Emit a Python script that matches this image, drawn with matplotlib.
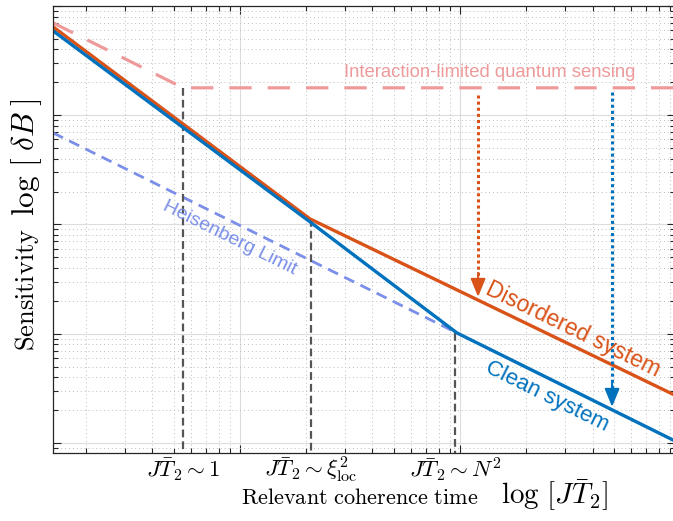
import numpy as np
import matplotlib
matplotlib.use("Agg")
import matplotlib.pyplot as plt
from matplotlib.ticker import LogLocator, NullFormatter

plt.rcParams['mathtext.fontset'] = 'cm'
plt.rcParams['font.family'] = ['Liberation Sans', 'DejaVu Sans']

# valores en log10 (esquema)
x_lim = [-0.85, 1.977]
y_lim = [-0.092, 4.0]

x_interaccion = [-0.85, -0.259, 1.98]
y_interaccion = [3.846, 3.251, 3.251]

x_desorden = [-0.85, 0.318, 1.98]
y_desorden = [3.81, 2.051, 0.434]

x_limpio = [-0.85, 0.318, 0.986, 1.98]
y_limpio = [3.773, 2.024, 1.007, 0.015]

x_heisenberg = [-0.85, 0.986]
y_heisenberg = [2.839, 1.007]

# lineas verticales: (x, y superior)
x_verticales = [-0.259, 0.323, 0.977]
y_verticales = [3.251, 2.05, 1.007]
etiquetas_x = [r'$J\bar{T}_2\sim 1$', r'$J\bar{T}_2\sim \xi^2_{\mathrm{loc}}$', r'$J\bar{T}_2\sim N^2$']

# flechas punteadas: x, y inicio, y punta
flecha_naranja = [1.082, 3.187, 1.337]
flecha_azul = [1.691, 3.214, 0.33]

naranja = '#D95319'
azul = '#0072BD'
rosa = '#EF9A9A'
celeste = '#7B8FE8'

fig = plt.figure(figsize=(6.73, 5.21), dpi=100)
ax = fig.add_axes([53/673, 68/521, 622/673, 447/521])
ax.set_xscale('log')
ax.set_yscale('log')
ax.set_xlim(10**x_lim[0], 10**x_lim[1])
ax.set_ylim(10**y_lim[0], 10**y_lim[1])

def p(v):
    return 10**np.array(v)

# grid estilo matlab
ax.grid(True, which='major', color='#dcdcdc', linewidth=0.8, linestyle='-')
ax.grid(True, which='minor', color='#bdbdbd', linewidth=0.7, linestyle=(0, (1, 3)))
ax.set_axisbelow(True)
ax.xaxis.set_minor_locator(LogLocator(base=10, subs=np.arange(2, 10), numticks=20))
ax.yaxis.set_minor_locator(LogLocator(base=10, subs=np.arange(2, 10), numticks=20))
ax.xaxis.set_major_formatter(NullFormatter())
ax.xaxis.set_minor_formatter(NullFormatter())
ax.yaxis.set_major_formatter(NullFormatter())
ax.yaxis.set_minor_formatter(NullFormatter())
ax.tick_params(which='both', direction='in', top=True, right=True, color='#262626', width=0.8)
ax.tick_params(which='major', length=6)
ax.tick_params(which='minor', length=3.5)
for s in ax.spines.values():
    s.set_color('#262626')
    s.set_linewidth(0.9)

# lineas
ax.plot(p(x_interaccion), p(y_interaccion), color=rosa, lw=2.3, dashes=(7, 5))
ax.plot(p(x_heisenberg), p(y_heisenberg), color=celeste, lw=2.0, dashes=(4, 2.5))
for xv, yv in zip(x_verticales, y_verticales):
    ax.plot([10**xv, 10**xv], [10**yv, 10**y_lim[0]], color='#555555', lw=1.6, dashes=(3.5, 1.8))
ax.plot(p(x_desorden), p(y_desorden), color=naranja, lw=2.4, solid_capstyle='butt')
ax.plot(p(x_limpio), p(y_limpio), color=azul, lw=2.4, solid_capstyle='butt')

# flechas
for f, c in [(flecha_naranja, naranja), (flecha_azul, azul)]:
    ax.plot([10**f[0]] * 2, [10**f[1], 10**(f[2] + 0.17)], color=c, lw=2.2, linestyle=(0, (1, 1)))
    ax.annotate('', xy=(10**f[0], 10**f[2]), xytext=(10**f[0], 10**(f[2] + 0.22)),
                arrowprops=dict(arrowstyle='-|>,head_length=1.1,head_width=0.45', color=c, lw=1.5,
                                shrinkA=0, shrinkB=0))

# textos
ax.text(10**1.136, 10**3.388, 'Interaction-limited quantum sensing', color=rosa,
        fontsize=13.3, ha='center', va='center')
ax.text(10**-0.045, 10**1.877, 'Heisenberg Limit', color=celeste, fontsize=14,
        ha='center', va='center', rotation=-26.3, rotation_mode='anchor')
ax.text(10**1.514, 10**1.035, 'Disordered system', color=naranja, fontsize=16.5,
        ha='center', va='center', rotation=-25.9, rotation_mode='anchor')
ax.text(10**1.395, 10**0.421, 'Clean system', color=azul, fontsize=16,
        ha='center', va='center', rotation=-26.3, rotation_mode='anchor')

tr = ax.get_xaxis_transform()
for xv, et in zip(x_verticales, etiquetas_x):
    ax.text(10**xv, -0.037, et, transform=tr, ha='center', va='center', fontsize=16.5)

fig.text(360/673, 1 - 499/521, r'$\mathrm{Relevant\ coherence\ time}$', ha='center', va='center', fontsize=16)
fig.text(555/673, 1 - 495/521, r'$\log\,[J\bar{T}_2]$', ha='center', va='center', fontsize=21)
fig.text(27/673, 1 - 289/521, r'$\mathrm{Sensitivity}$', ha='center', va='center', fontsize=19, rotation=90)
fig.text(27/673, 1 - 157/521, r'$\log\,[\;\delta B\;]$', ha='center', va='center', fontsize=22.5, rotation=90)

fig.savefig('out.png', dpi=100)
